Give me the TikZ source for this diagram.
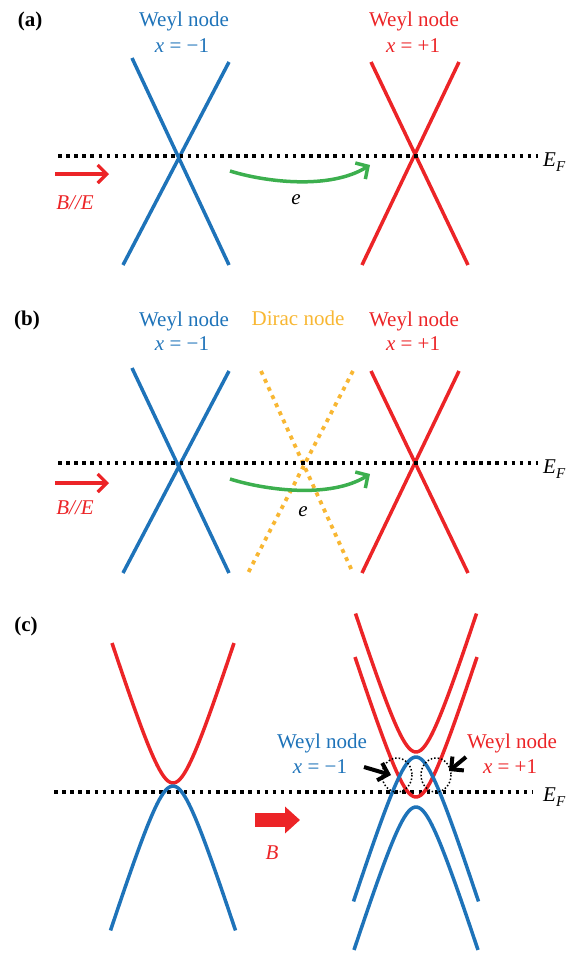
\documentclass[tikz,border=0pt]{standalone}
\usepackage{fontspec}
\setmainfont{Liberation Serif}
\usetikzlibrary{arrows.meta}

\definecolor{weylblue}{RGB}{30,115,185}
\definecolor{weylred}{RGB}{236,36,39}
\definecolor{diracorange}{RGB}{248,183,51}
\definecolor{hopgreen}{RGB}{60,175,78}

\begin{document}
\begin{tikzpicture}[x=1pt, y=-1pt]

        % Styles kept local to the picture; coordinates are in pixels, y pointing down
        \tikzset{
            every node/.style={inner sep=0pt, font=\fontsize{21}{25}\selectfont},
            panel/.style={font=\fontsize{21}{25}\selectfont\bfseries, anchor=base},
            band/.style={line width=3.5pt},
            fermi/.style={line width=3.5pt, dash pattern=on 3.5pt off 4.6pt},
            dirac/.style={line width=3.8pt, diracorange, dash pattern=on 4pt off 4.9pt},
            hop/.style={line width=3.5pt, hopgreen, -{Straight Barb[length=9pt,width=19pt]}},
            field/.style={line width=3.2pt, weylred, -{Straight Barb[length=9pt,width=18pt]}},
            marker/.style={line width=1.5pt, dash pattern=on 1.5pt off 2pt},
            pointer/.style={line width=4pt, -{Straight Barb[length=9pt,width=18pt]}},
            declare function={hyp(\x)=10*(sqrt(36+0.0978*\x*\x)-6);}
        }
        \useasboundingbox (0,0) rectangle (574,953);

        % --- Panel (a): two Weyl cones ---
        \node[panel] (labA) at (30,26) {(a)};
        \node[weylblue, anchor=base] (wlA) at (184,27) {Weyl node};
        \node[weylblue, anchor=base] (chlA) at (182,52) {\textit{x} = −1};
        \node[weylred, anchor=base] (wrA) at (414,27) {Weyl node};
        \node[weylred, anchor=base] (chrA) at (413,52) {\textit{x} = +1};

        \draw[band, weylblue] (132,58) -- (229,265) (229,62) -- (123,265);
        \draw[band, weylred] (371,62) -- (468,265) (459,62) -- (362,265);
        \draw[fermi] (58,156) -- (538,156);
        \node[anchor=base west] (efA) at (543,166) {\textit{E}\raisebox{-5pt}{\fontsize{15}{15}\selectfont\textit{F}}};

        \coordinate (fieldA0) at (55,174);
        \coordinate (fieldA1) at (109,174);
        \draw[field] (fieldA0) -- (fieldA1);
        \node[weylred, anchor=base] (beA) at (75,209) {\textit{B//E}};

        \coordinate (hopA0) at (230,171);
        \coordinate (hopA1) at (370,165);
        \draw[hop] (hopA0) .. controls (265,182) and (330,190) .. (hopA1);
        \node[anchor=base] (eA) at (296,204) {\textit{e}};

        % --- Panel (b): a Dirac cone between the Weyl cones ---
        \node[panel] (labB) at (27,325) {(b)};
        \node[weylblue, anchor=base] (wlB) at (184,326) {Weyl node};
        \node[weylblue, anchor=base] (chlB) at (182,350) {\textit{x} = −1};
        \node[diracorange, anchor=base] (dnB) at (298,325) {Dirac node};
        \node[weylred, anchor=base] (wrB) at (414,326) {Weyl node};
        \node[weylred, anchor=base] (chrB) at (413,350) {\textit{x} = +1};

        \draw[band, weylblue] (132,368) -- (229,573) (229,371) -- (123,573);
        \draw[dirac] (261,371) -- (353,573) (353,371) -- (248,573);
        \draw[band, weylred] (371,371) -- (468,573) (459,371) -- (362,573);
        \draw[fermi] (58,463) -- (538,463);
        \node[anchor=base west] (efB) at (543,473) {\textit{E}\raisebox{-5pt}{\fontsize{15}{15}\selectfont\textit{F}}};

        \coordinate (fieldB0) at (55,483);
        \coordinate (fieldB1) at (109,483);
        \draw[field] (fieldB0) -- (fieldB1);
        \node[weylred, anchor=base] (beB) at (75,514) {\textit{B//E}};

        \coordinate (hopB0) at (230,479);
        \coordinate (hopB1) at (370,474);
        \draw[hop] (hopB0) .. controls (265,490) and (330,499) .. (hopB1);
        \node[anchor=base] (eB) at (303,516) {\textit{e}};

        % --- Panel (c): gapped bands split by the field ---
        \node[panel] (labC) at (26,631) {(c)};
        \draw[fermi] (54,792) -- (532,792);
        \node[anchor=base west] (efC) at (543,801) {\textit{E}\raisebox{-5pt}{\fontsize{15}{15}\selectfont\textit{F}}};

        % left: touching bands at zero field
        \draw[band, weylred, domain=-61:61, samples=60] plot ({173+\x}, {783-hyp(\x)});
        \draw[band, weylblue, domain=-62.5:62.5, samples=60] plot ({173+\x}, {786+hyp(\x)});

        % thick field arrow
        \coordinate (fieldC0) at (255,820);
        \coordinate (fieldC1) at (300,820);
        \draw[line width=14pt, weylred, -{Triangle[length=15pt,width=26pt]}] (fieldC0) -- (fieldC1);
        \node[weylred, anchor=base] (bC) at (272,859) {\textit{B}};

        % right: shifted copies, crossing near E_F
        \draw[band, weylred, domain=-60.5:60.5, samples=60] plot ({416+\x}, {752-hyp(\x)});
        \draw[band, weylred, domain=-61:61, samples=60] plot ({416+\x}, {797-hyp(\x)});
        \draw[band, weylblue, domain=-62.5:62.5, samples=60] plot ({416+\x}, {757+hyp(\x)});
        \draw[band, weylblue, domain=-62:62, samples=60] plot ({416+\x}, {807+hyp(\x)});

        \draw[marker] (397,775) ellipse (15 and 17);
        \draw[marker] (436,775) ellipse (15 and 17);

        \node[weylblue, anchor=base] (wlC) at (322,748) {Weyl node};
        \node[weylblue, anchor=base] (chlC) at (320,773) {\textit{x} = −1};
        \node[weylred, anchor=base] (wrC) at (512,748) {Weyl node};
        \node[weylred, anchor=base] (chrC) at (510,773) {\textit{x} = +1};

        \coordinate (ptL0) at (364,767);
        \coordinate (ptL1) at (391,775);
        \coordinate (ptR0) at (466,757);
        \coordinate (ptR1) at (449,771);
        \draw[pointer] (ptL0) -- (ptL1);
        \draw[pointer] (ptR0) -- (ptR1);

    \end{tikzpicture}
\end{document}
